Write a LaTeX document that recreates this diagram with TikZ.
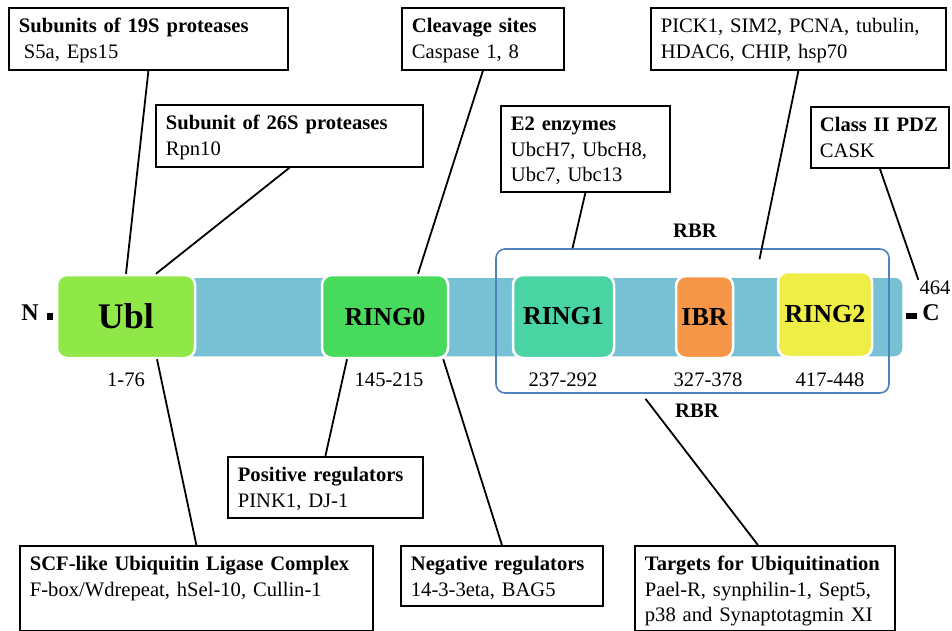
\documentclass[tikz,border=0pt]{standalone}
\usepackage{fontspec}
\setmainfont{Liberation Serif}
\definecolor{barblue}{RGB}{120,192,212}
\definecolor{ublgreen}{RGB}{144,232,72}
\definecolor{ringzero}{RGB}{72,218,92}
\definecolor{ringone}{RGB}{74,212,164}
\definecolor{ibrorange}{RGB}{245,150,72}
\definecolor{ringtwo}{RGB}{238,238,70}
\definecolor{rbrblue}{RGB}{79,129,189}
\tikzset{
  domainbox/.style={draw=white, line width=2.5pt, rounded corners=10pt, inner sep=0pt, font=\fontsize{26}{30}\selectfont\bfseries},
  infobox/.style={draw, line width=1.8pt, anchor=north west, align=left, inner xsep=10pt, inner ysep=0pt, text height=25pt},
  link/.style={line width=1.8pt}
}
\begin{document}
\begin{tikzpicture}[x=1pt,y=-1pt,every node/.style={font=\fontsize{20.6}{25.5}\selectfont}]
\useasboundingbox (0,0) rectangle (952,631);
% protein bar
\filldraw[fill=barblue, draw=white, line width=1.5pt, rounded corners=8pt] (60,277) rectangle (903,357);
\fill (47,313) rectangle (53,320);
\fill (906,313) rectangle (917,319);
\node (nterm) at (30,313) {\fontsize{24}{28}\selectfont\bfseries N};
\node (cterm) at (931,313) {\fontsize{24}{28}\selectfont\bfseries C};
\node[inner sep=1pt] (n464) at (935,288) {464};
% domains
\node[domainbox, fill=ublgreen, minimum width=138pt, minimum height=83pt, font=\fontsize{36}{40}\selectfont\bfseries] (ubl) at (126,316.5) {Ubl};
\node[domainbox, fill=ringzero, minimum width=126pt, minimum height=83pt] (ring0) at (385,316.5) {RING0};
\node[domainbox, fill=ringone, minimum width=101pt, minimum height=83pt] (ring1) at (563.5,316.5) {RING1};
\node[domainbox, fill=ibrorange, minimum width=57pt, minimum height=82pt] (ibr) at (704.5,317) {IBR};
\node[domainbox, fill=ringtwo, minimum width=94pt, minimum height=85pt] (ring2) at (825,314.5) {RING2};
\node[draw=rbrblue, line width=1.6pt, rounded corners=9pt, minimum width=393pt, minimum height=144pt, inner sep=0pt] (rbr) at (692.5,321) {};
\node (rbrtop) at (695,231) {\textbf{RBR}};
\node (rbrbot) at (697,411) {\textbf{RBR}};
% residue numbers
\node (num1) at (126,380) {1-76};
\node (num2) at (389,380) {145-215};
\node (num3) at (563,380) {237-292};
\node (num4) at (708,380) {327-378};
\node (num5) at (830,380) {417-448};
% interaction boxes
\node[infobox, text width=259pt, text depth=37pt] (sub19) at (8,7) {\textbf{Subunits of 19S proteases}\\\hspace{5pt}S5a, Eps15};
\node[infobox, text width=247pt, text depth=37pt] (sub26) at (155,104) {\textbf{Subunit of 26S proteases}\\Rpn10};
\node[infobox, text width=142pt, text depth=37pt] (cleave) at (401,7) {\textbf{Cleavage sites}\\Caspase 1, 8};
\node[infobox, text width=149pt, text depth=61pt] (e2) at (500,105) {\textbf{E2 enzymes}\\UbcH7, UbcH8,\\Ubc7, Ubc13};
\node[infobox, text width=275pt, text depth=37pt] (pick) at (650,7) {PICK1, SIM2, PCNA, tubulin,\\HDAC6, CHIP, hsp70};
\node[infobox, inner xsep=9pt, text width=120pt, text depth=36pt] (pdz) at (810,106) {\textbf{Class II PDZ}\\CASK};
\node[infobox, text width=175pt, text depth=36pt] (pos) at (227,456) {\textbf{Positive regulators}\\PINK1, DJ-1};
\node[infobox, text width=333pt, text depth=60pt] (scf) at (19,545) {\textbf{SCF-like Ubiquitin Ligase Complex}\\F-box/Wdrepeat, hSel-10, Cullin-1};
\node[infobox, text width=182pt, text depth=35pt] (neg) at (400,545) {\textbf{Negative regulators}\\14-3-3eta, BAG5};
\node[infobox, text width=240pt, text depth=60pt] (targets) at (634,545) {\textbf{Targets for Ubiquitination}\\Pael-R, synphilin-1, Sept5,\\p38 and Synaptotagmin XI};
% connectors
\draw[link] (sub19.south) -- (ubl.north);
\draw[link] (sub26.south) -- ([xshift=30pt]ubl.north);
\draw[link] (cleave.south) -- ([xshift=33pt]ring0.north);
\draw[link] (e2.south) -- ([xshift=-120pt]rbr.north);
\draw[link] (pick.south) -- ([xshift=67pt,yshift=-11pt]rbr.north);
\draw[link] (pdz.south) -- (n464.north west);
\draw[link] ([xshift=31pt]ubl.south) -- (scf.north);
\draw[link] ([xshift=-38pt]ring0.south) -- (pos.north);
\draw[link] ([xshift=-6pt]ring0.south east) -- (neg.north);
\draw[link] ([xshift=-47pt,yshift=-5pt]rbr.south) -- ([xshift=-7pt]targets.north);
\end{tikzpicture}
\end{document}
